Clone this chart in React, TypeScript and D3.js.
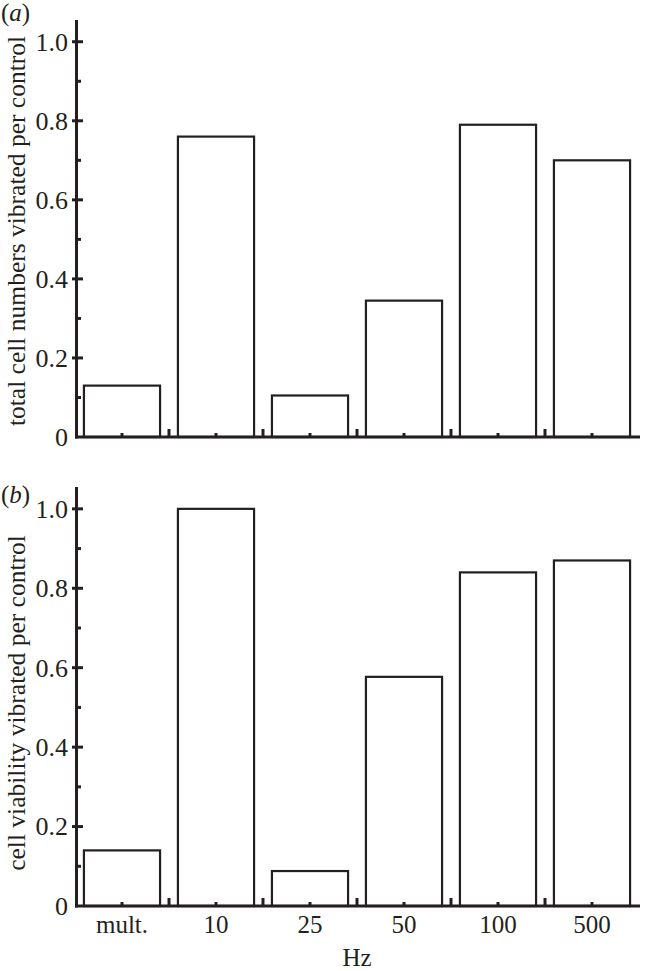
import React, { useEffect, useRef } from 'react';
import * as d3 from 'd3';

const categories = ['mult.', '10', '25', '50', '100', '500'];
const cellNumbers = [0.13, 0.76, 0.105, 0.345, 0.79, 0.7];
const cellViability = [0.14, 1.0, 0.088, 0.577, 0.84, 0.87];
const majorTicks = [0, 0.2, 0.4, 0.6, 0.8, 1.0];
const minorTicks = [0.1, 0.3, 0.5, 0.7, 0.9];
const tickLabels = ['0', '0.2', '0.4', '0.6', '0.8', '1.0'];

const INK = '#231f20';
const FONT = '"Liberation Serif", "Times New Roman", serif';
const FS = 26;

export default function App() {
  const svgRef = useRef<SVGSVGElement>(null);

  useEffect(() => {
    const svg = d3.select(svgRef.current);
    svg.selectAll('*').remove();

    const x = d3.scaleBand<string>()
      .domain(categories)
      .range([75, 639])
      .paddingInner(0.19)
      .paddingOuter(0.095);
    const step = x.step();

    const panels = [
      { tag: 'a', values: cellNumbers, base: 437, top: 20, tagY: 21, labelY: 231, label: 'total cell numbers vibrated per control', showX: false },
      { tag: 'b', values: cellViability, base: 906, top: 487, tagY: 503, labelY: 703, label: 'cell viability vibrated per control', showX: true },
    ];

    panels.forEach(p => {
      const y = d3.scaleLinear().domain([0, 1.055]).range([p.base, p.top]);
      const g = svg.append('g');

      // bars
      g.selectAll('rect.bar')
        .data(p.values)
        .enter()
        .append('rect')
        .attr('class', 'bar')
        .attr('x', (d, i) => x(categories[i])!)
        .attr('y', d => y(d))
        .attr('width', x.bandwidth())
        .attr('height', d => y(0) - y(d))
        .attr('fill', 'white')
        .attr('stroke', INK)
        .attr('stroke-width', 2.2);

      // y axis
      g.append('line')
        .attr('x1', 76.5).attr('x2', 76.5)
        .attr('y1', y(0) + 1.5).attr('y2', p.top)
        .attr('stroke', INK).attr('stroke-width', 3);

      g.selectAll('line.major')
        .data(majorTicks.slice(1))
        .enter()
        .append('line')
        .attr('x1', 72).attr('x2', 83)
        .attr('y1', d => y(d)).attr('y2', d => y(d))
        .attr('stroke', INK).attr('stroke-width', 3);

      g.selectAll('line.minor')
        .data(minorTicks)
        .enter()
        .append('line')
        .attr('x1', 76).attr('x2', 81)
        .attr('y1', d => y(d)).attr('y2', d => y(d))
        .attr('stroke', INK).attr('stroke-width', 3);

      g.selectAll('text.tick')
        .data(majorTicks)
        .enter()
        .append('text')
        .attr('x', 68)
        .attr('y', d => y(d))
        .attr('dy', '0.34em')
        .attr('text-anchor', 'end')
        .attr('font-family', FONT)
        .attr('font-size', FS)
        .attr('fill', INK)
        .text((d, i) => tickLabels[i]);

      // x axis
      g.append('line')
        .attr('x1', 75).attr('x2', 640)
        .attr('y1', y(0)).attr('y2', y(0))
        .attr('stroke', INK).attr('stroke-width', 3);

      g.selectAll('line.sep')
        .data(d3.range(1, categories.length))
        .enter()
        .append('line')
        .attr('x1', i => 75 + i * step).attr('x2', i => 75 + i * step)
        .attr('y1', y(0)).attr('y2', y(0) - 8)
        .attr('stroke', INK).attr('stroke-width', 3);

      g.selectAll('line.mid')
        .data(categories)
        .enter()
        .append('line')
        .attr('x1', d => x(d)! + x.bandwidth() / 2).attr('x2', d => x(d)! + x.bandwidth() / 2)
        .attr('y1', y(0)).attr('y2', y(0) - 4)
        .attr('stroke', INK).attr('stroke-width', 3);

      // panel tag
      const tag = g.append('text')
        .attr('x', 1)
        .attr('y', p.tagY)
        .attr('font-family', FONT)
        .attr('font-size', 25)
        .attr('fill', INK);
      tag.append('tspan').text('(');
      tag.append('tspan').attr('font-style', 'italic').text(p.tag);
      tag.append('tspan').text(')');

      // y label
      g.append('text')
        .attr('transform', `translate(25, ${p.labelY}) rotate(-90)`)
        .attr('text-anchor', 'middle')
        .attr('font-family', FONT)
        .attr('font-size', 25.5)
        .attr('fill', INK)
        .text(p.label);

      if (p.showX) {
        g.selectAll('text.cat')
          .data(categories)
          .enter()
          .append('text')
          .attr('x', d => x(d)! + x.bandwidth() / 2)
          .attr('y', y(0) + 27)
          .attr('text-anchor', 'middle')
          .attr('font-family', FONT)
          .attr('font-size', 25)
          .attr('fill', INK)
          .text(d => d);

        g.append('text')
          .attr('x', 357)
          .attr('y', y(0) + 60)
          .attr('text-anchor', 'middle')
          .attr('font-family', FONT)
          .attr('font-size', 25)
          .attr('fill', INK)
          .text('Hz');
      }
    });
  }, []);

  return (
    <svg
      ref={svgRef}
      width={645}
      height={971}
      style={{ position: 'absolute', left: 0, top: 0, background: 'white' }}
    />
  );
}
